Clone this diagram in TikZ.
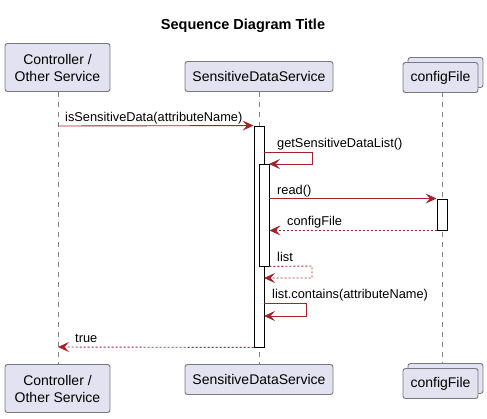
\documentclass[tikz,border=0pt]{standalone}
\usepackage{fontspec}
\setmainfont{Liberation Sans}
\usetikzlibrary{arrows.meta}
\definecolor{pbox}{RGB}{226,226,240}
\definecolor{pborder}{RGB}{120,120,130}
\definecolor{lifegray}{RGB}{130,130,130}
\definecolor{msg}{RGB}{165,35,40}
\newcommand{\partfont}{\fontsize{14}{17}\selectfont}
\newcommand{\msgfont}{\fontsize{12.8}{14}\selectfont}
\begin{document}
\begin{tikzpicture}[x=1pt,y=-1pt,
  part/.style={draw=pborder, fill=pbox, rounded corners=2.5pt, line width=0.9pt, align=center, font=\partfont, inner sep=0pt},
  life/.style={draw=lifegray, dash pattern=on 5pt off 5pt, line width=0.8pt},
  actbar/.style={draw=black, fill=white, line width=0.9pt, inner sep=0pt, minimum width=10pt},
  msgline/.style={draw=msg, line width=0.9pt, -{Stealth[length=11pt,width=10pt,inset=4.5pt]}},
  retline/.style={msgline, dash pattern=on 2pt off 2pt},
  lbl/.style={anchor=base west, inner sep=0pt, font=\msgfont},
]
\useasboundingbox (0,0) rectangle (487,418);
\fill[white] (0,0) rectangle (487,418);

% title
\node[font=\fontsize{14.5}{16}\selectfont\bfseries, anchor=base] (title) at (243,29) {Sequence Diagram Title};

% lifeline coordinates
\coordinate (l1t) at (58,92);  \coordinate (l1b) at (58,364);
\coordinate (l2t) at (259,92); \coordinate (l2b) at (259,364);
\coordinate (l3t) at (442,92); \coordinate (l3b) at (442,368);
\draw[life] (l1t) -- (l1b);
\draw[life] (l2t) -- (l2b);
\draw[life] (l3t) -- (l3b);

% top participants
\node[part, minimum width=105pt, minimum height=48pt] (ctop) at (57.5,67.5) {Controller /\\Other Service};
\node[part, minimum width=148pt, minimum height=30pt] (stop) at (259,76.5) {SensitiveDataService};
\node[part, minimum width=75pt, minimum height=30pt] (fback) at (445.5,72.5) {};
\node[part, minimum width=75pt, minimum height=30pt] (ftop) at (440.5,77.5) {configFile};

% bottom participants
\node[part, minimum width=105pt, minimum height=48pt] (cbot) at (57.5,388.5) {Controller /\\Other Service};
\node[part, minimum width=148pt, minimum height=30pt] (sbot) at (259,379.5) {SensitiveDataService};
\node[part, minimum width=75pt, minimum height=30pt] (fbback) at (445.5,378.5) {};
\node[part, minimum width=75pt, minimum height=30pt] (fbot) at (440.5,383.5) {configFile};

% activation bars
\node[actbar, minimum height=221pt] (act1) at (259,236.5) {};

% message coordinates
\coordinate (m1s) at (58,126);
\coordinate (m2s) at (264,152); \coordinate (m2a) at (312,152); \coordinate (m2b) at (312,164); \coordinate (m2e) at (269,164);

\draw[msgline] (m1s) -- (act1.north west);
\node[lbl] (t1) at (65,121) {isSensitiveData(attributeName)};

\draw[msgline] (m2s) -- (m2a) -- (m2b) -- (m2e);
\node[lbl] (t2) at (277,147) {getSensitiveDataList()};

\node[actbar, minimum height=102pt] (act2) at (264,215) {};
\node[actbar, minimum height=31pt] (act3) at (442,214.5) {};

\draw[msgline] (act2.east |- act3.north west) -- (act3.north west);
\node[lbl] (t3) at (277,194) {read()};

\draw[retline] (act3.south west) -- (act2.east |- act3.south west);
\node[lbl] (t4) at (287,225) {configFile};

\coordinate (m5a) at (312,266); \coordinate (m5b) at (312,278); \coordinate (m5e) at (264,278);
\draw[retline] (act2.south east) -- (m5a) -- (m5b) -- (m5e);
\node[lbl] (t5) at (277,261) {list};

\coordinate (m6s) at (264,303); \coordinate (m6a) at (306,303); \coordinate (m6b) at (306,316); \coordinate (m6e) at (264,316);
\draw[msgline] (m6s) -- (m6a) -- (m6b) -- (m6e);
\node[lbl] (t6) at (272,298) {list.contains(attributeName)};

\coordinate (m7e) at (58,347);
\draw[retline] (act1.south west) -- (m7e);
\node[lbl] (t7) at (75,342) {true};
\end{tikzpicture}
\end{document}
